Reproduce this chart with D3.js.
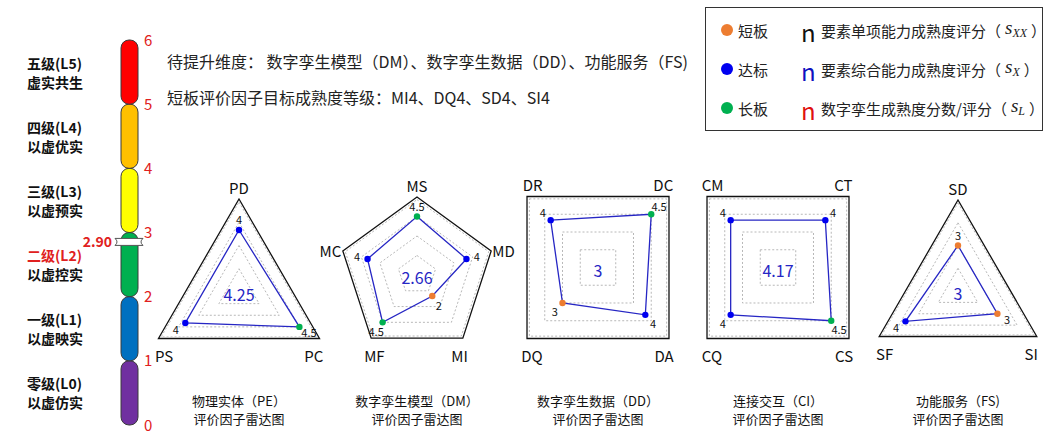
<!DOCTYPE html>
<html>
<head>
<meta charset="utf-8">
<script src="https://cdn.jsdelivr.net/npm/d3@7"></script>
<style>
  body { margin: 0; background: #fff; }
  svg { display: block; font-family: "Noto Sans CJK SC", "Noto Sans", sans-serif; }
</style>
</head>
<body>
<svg id="chart" width="1061" height="444"></svg>
<script>
// ---- data ----
const levelNames = ["零级(L0)", "一级(L1)", "二级(L2)", "三级(L3)", "四级(L4)", "五级(L5)"];
const levelDescs = ["以虚仿实", "以虚映实", "以虚控实", "以虚预实", "以虚优实", "虚实共生"];
const levelTicks = [0, 1, 2, 3, 4, 5, 6];
const overallScore = 2.90;

const noteLines = [
    "待提升维度： 数字孪生模型（DM）、数字孪生数据（DD）、功能服务（FS)",
    "短板评价因子目标成熟度等级：MI4、DQ4、SD4、SI4"
];

const legendStatus = ["短板", "达标", "长板"];
const legendScoreNames = ["要素单项能力成熟度评分（", "要素综合能力成熟度评分（", "数字孪生成熟度分数/评分（"];
const legendScoreSubs = ["XX", "X", "L"];

const chartTitles = ["物理实体（PE）", "数字孪生模型（DM）", "数字孪生数据（DD）", "连接交互（CI）", "功能服务（FS)"];
const chartScores = [4.25, 2.66, 3, 4.17, 3];

const peAxes = ["PD", "PC", "PS"];
const peValues = [4, 4.5, 4];
const dmAxes = ["MS", "MD", "MI", "MF", "MC"];
const dmValues = [4.5, 4, 2, 4.5, 4];
const ddAxes = ["DR", "DC", "DA", "DQ"];
const ddValues = [4, 4.5, 4, 3];
const ciAxes = ["CM", "CT", "CS", "CQ"];
const ciValues = [4, 4, 4.5, 4];
const fsAxes = ["SD", "SI", "SF"];
const fsValues = [3, 3, 4];

const targetLevel = 4;
const gridLevels = [1.5, 3, 4.5, 5.8];

// ---- styles / layout ----
const levelColors = ["#7030A0", "#0070C0", "#00B050", "#FFFF00", "#FFC000", "#FF0000"];
const statusColors = ["#ED7D31", "#0000F0", "#00B050"];
const nColors = ["#111", "#1010C0", "#E01010"];
const red = "#E02020";
const lineBlue = "#2626C4";

const svg = d3.select("#chart");

// left maturity scale
const yLevel = d3.scaleLinear().domain([0, 6]).range([425, 40]);
const barX = 121, barW = 17;

svg.append("g").selectAll("rect")
    .data(levelColors)
    .join("rect")
    .attr("x", barX)
    .attr("y", (d, i) => yLevel(i + 1))
    .attr("width", barW)
    .attr("height", (d, i) => yLevel(i) - yLevel(i + 1))
    .attr("rx", 8)
    .attr("fill", d => d)
    .attr("stroke", "#3a3a3a")
    .attr("stroke-width", 1);

svg.append("g").selectAll("text")
    .data(levelTicks)
    .join("text")
    .attr("x", 144)
    .attr("y", d => yLevel(d) - 1)
    .attr("dominant-baseline", "central")
    .attr("font-size", 15)
    .attr("fill", red)
    .text(d => d);

const current = Math.floor(overallScore);
const lvl = svg.append("g").selectAll("g")
    .data(levelNames)
    .join("g");
lvl.append("text")
    .attr("x", 27)
    .attr("y", (d, i) => yLevel(i + 0.5) - 9.5)
    .attr("dominant-baseline", "central")
    .attr("font-size", 14)
    .attr("font-weight", "bold")
    .attr("fill", (d, i) => i === current ? red : "#111")
    .text(d => d);
lvl.append("text")
    .attr("x", 27)
    .attr("y", (d, i) => yLevel(i + 0.5) + 9.5)
    .attr("dominant-baseline", "central")
    .attr("font-size", 14)
    .attr("font-weight", "bold")
    .attr("fill", "#111")
    .text((d, i) => levelDescs[i]);

// score marker on the bar
const my = yLevel(overallScore) + 3;
const x0 = 115, x1 = 143, hh = 3.5;
svg.append("path")
    .attr("d", `M${x0},${my - hh} L${x1},${my - hh} Q${x1 - 4},${my} ${x1},${my + hh} L${x0},${my + hh} Q${x0 + 4},${my} ${x0},${my - hh} Z`)
    .attr("fill", "#fff")
    .attr("stroke", "#555")
    .attr("stroke-width", 1);
svg.append("text")
    .attr("x", 112)
    .attr("y", my - 1)
    .attr("text-anchor", "end")
    .attr("dominant-baseline", "central")
    .attr("font-size", 14)
    .attr("font-weight", "bold")
    .attr("fill", red)
    .text(overallScore.toFixed(2));

// notes
svg.append("g").selectAll("text")
    .data(noteLines)
    .join("text")
    .attr("x", 167)
    .attr("y", (d, i) => 68 + i * 36)
    .attr("font-size", 16)
    .attr("fill", "#222")
    .text(d => d);

// legend
const lg = svg.append("g");
lg.append("rect")
    .attr("x", 705.5).attr("y", 7.5)
    .attr("width", 337).attr("height", 123)
    .attr("fill", "#fff")
    .attr("stroke", "#333");
const rowY = d3.scalePoint().domain(legendStatus).range([30, 108]);
const row = lg.selectAll("g.row")
    .data(legendStatus)
    .join("g")
    .attr("class", "row")
    .attr("transform", d => `translate(0,${rowY(d)})`);
row.append("circle")
    .attr("cx", 727).attr("cy", 0).attr("r", 6)
    .attr("fill", (d, i) => statusColors[i]);
row.append("text")
    .attr("x", 738).attr("y", 0)
    .attr("dominant-baseline", "central")
    .attr("font-size", 15)
    .attr("fill", "#222")
    .text(d => d);
row.append("text")
    .attr("x", 801).attr("y", 1)
    .attr("dominant-baseline", "central")
    .attr("font-size", 24)
    .attr("fill", (d, i) => nColors[i])
    .text("n");
const sTxt = row.append("text")
    .attr("x", 821).attr("y", 0)
    .attr("dominant-baseline", "central")
    .attr("font-size", 15)
    .attr("fill", "#222");
sTxt.append("tspan").text((d, i) => legendScoreNames[i]);
sTxt.append("tspan")
    .attr("font-family", "'Liberation Serif', serif")
    .attr("font-style", "italic")
    .attr("font-size", 19)
    .attr("dx", 4)
    .attr("dy", -3)
    .text("s");
sTxt.append("tspan")
    .attr("font-family", "'Liberation Serif', serif")
    .attr("font-style", "italic")
    .attr("font-size", 12)
    .attr("dy", 6)
    .text((d, i) => legendScoreSubs[i]);
sTxt.append("tspan")
    .attr("dx", 4)
    .attr("dy", -3)
    .text("）");

// radar charts
const charts = [
    { axes: peAxes, values: peValues, cx: 239, cy: 292, R: 93, start: -90 },
    { axes: dmAxes, values: dmValues, cx: 417, cy: 275, R: 78, start: -90 },
    { axes: ddAxes, values: ddValues, cx: 598, cy: 267.5, R: 100.4, start: -135 },
    { axes: ciAxes, values: ciValues, cx: 778, cy: 267.5, R: 100.4, start: -135 },
    { axes: fsAxes, values: fsValues, cx: 958, cy: 291, R: 91, start: -90 }
];

function status(v) {
    return v < targetLevel ? 0 : (v > targetLevel ? 2 : 1);
}

charts.forEach((c, ci) => {
    const n = c.axes.length;
    const r = d3.scaleLinear().domain([0, 6]).range([0, c.R]);
    const ang = d3.scaleLinear().domain([0, n]).range([c.start, c.start + 360]);
    const pt = (i, v) => {
        const a = ang(i) * Math.PI / 180;
        return [c.cx + Math.cos(a) * r(v), c.cy + Math.sin(a) * r(v)];
    };
    const unit = i => {
        const a = ang(i) * Math.PI / 180;
        return [Math.cos(a), Math.sin(a)];
    };
    const line = d3.line().curve(d3.curveLinearClosed);
    const g = svg.append("g");

    g.append("path")
        .attr("d", line(c.axes.map((a, i) => pt(i, 6))))
        .attr("fill", "#fff")
        .attr("stroke", "#111")
        .attr("stroke-width", 1.3);

    g.selectAll("path.grid")
        .data(gridLevels)
        .join("path")
        .attr("class", "grid")
        .attr("d", lv => line(c.axes.map((a, i) => pt(i, lv))))
        .attr("fill", "none")
        .attr("stroke", "#b8b8b8")
        .attr("stroke-dasharray", "2,2")
        .attr("stroke-width", 1);

    // axis names
    g.selectAll("text.axis")
        .data(c.axes)
        .join("text")
        .attr("class", "axis")
        .attr("text-anchor", "middle")
        .attr("dominant-baseline", "central")
        .attr("font-size", 15)
        .attr("fill", "#111")
        .each(function (d, i) {
            const [ux, uy] = unit(i);
            const [vx, vy] = pt(i, 6);
            let x, y;
            if (uy < -0.6) { x = c.cx + (vx - c.cx) * 0.92; y = vy - 12; }
            else if (uy > 0.4) { x = c.cx + (vx - c.cx) * 0.93; y = vy + 17; }
            else { x = vx + ux * 13; y = vy; }
            d3.select(this).attr("x", x).attr("y", y);
        })
        .text(d => d);

    // score polygon
    g.append("path")
        .attr("d", line(c.values.map((v, i) => pt(i, v))))
        .attr("fill", "none")
        .attr("stroke", lineBlue)
        .attr("stroke-width", 1.3);

    g.selectAll("circle")
        .data(c.values)
        .join("circle")
        .attr("cx", (v, i) => pt(i, v)[0])
        .attr("cy", (v, i) => pt(i, v)[1])
        .attr("r", 3.2)
        .attr("fill", v => statusColors[status(v)]);

    g.selectAll("text.val")
        .data(c.values)
        .join("text")
        .attr("class", "val")
        .attr("x", (v, i) => pt(i, v)[0] + unit(i)[0] * 11)
        .attr("y", (v, i) => pt(i, v)[1] + unit(i)[1] * 11)
        .attr("text-anchor", "middle")
        .attr("dominant-baseline", "central")
        .attr("font-size", 11)
        .attr("fill", "#111")
        .text(v => v);

    g.append("text")
        .attr("x", c.cx)
        .attr("y", c.cy + 2)
        .attr("text-anchor", "middle")
        .attr("dominant-baseline", "central")
        .attr("font-size", 16)
        .attr("fill", lineBlue)
        .text(chartScores[ci]);

    g.append("text")
        .attr("x", c.cx)
        .attr("y", 400)
        .attr("text-anchor", "middle")
        .attr("dominant-baseline", "central")
        .attr("font-size", 13)
        .attr("fill", "#111")
        .text(chartTitles[ci]);
    g.append("text")
        .attr("x", c.cx)
        .attr("y", 418)
        .attr("text-anchor", "middle")
        .attr("dominant-baseline", "central")
        .attr("font-size", 13)
        .attr("fill", "#111")
        .text("评价因子雷达图");
});
</script>
</body>
</html>
